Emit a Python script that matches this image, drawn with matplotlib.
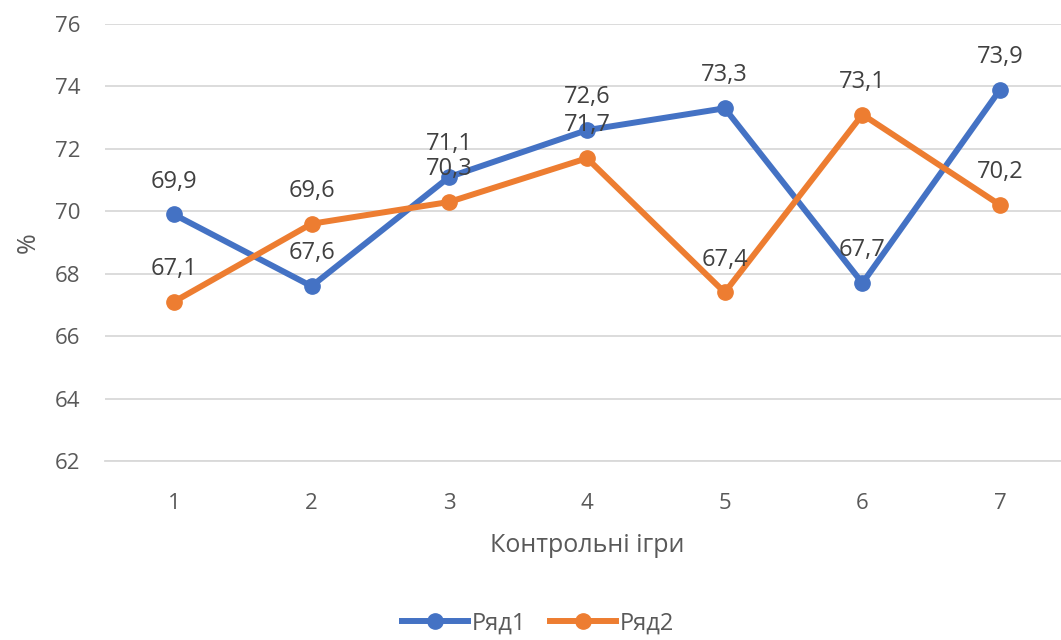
import matplotlib.pyplot as plt

games = [1, 2, 3, 4, 5, 6, 7]
row1 = [69.9, 67.6, 71.1, 72.6, 73.3, 67.7, 73.9]
row2 = [67.1, 69.6, 70.3, 71.7, 67.4, 73.1, 70.2]
yticks = [62, 64, 66, 68, 70, 72, 74, 76]

plt.rcParams['font.family'] = ['Open Sans', 'DejaVu Sans']
txt = '#595959'

fig = plt.figure(figsize=(10.61, 6.40), dpi=100)
ax = fig.add_axes([105 / 1061, (640 - 461) / 640, 964 / 1061, 437 / 640])

blue = '#4472C4'
orange = '#ED7D31'
ax.plot(games, row1, color=blue, lw=4.3, marker='o', ms=11, label='Ряд1', zorder=3)
ax.plot(games, row2, color=orange, lw=4.3, marker='o', ms=11, label='Ряд2', zorder=3)

# data labels sit on top of the lines
for series in (row1, row2):
    for x, y in zip(games, series):
        ax.annotate(f'{y:.1f}'.replace('.', ','), (x, y), xytext=(0, 15), textcoords='offset points',
                    ha='center', va='bottom', fontsize=17, color='#404040', zorder=5)

ax.set_xlim(0.5, 7.5)
ax.set_ylim(62, 76)
ax.set_yticks(yticks)
ax.set_xticks(games)
ax.grid(axis='y', color='#D9D9D9', lw=1.3)
ax.set_axisbelow(True)
for s in ['top', 'right', 'left']:
    ax.spines[s].set_visible(False)
ax.spines['bottom'].set_color('#D9D9D9')
ax.spines['bottom'].set_linewidth(1.3)
ax.tick_params(length=0, labelsize=16, labelcolor=txt)
ax.tick_params(axis='x', pad=23)
ax.tick_params(axis='y', pad=18)

ax.set_xlabel('Контрольні ігри', fontsize=18, color=txt, labelpad=14)
ax.set_ylabel('%', fontsize=18, color=txt, labelpad=10)

fig.legend(loc='center', bbox_to_anchor=(0.507, 0.026), ncol=2, frameon=False,
           fontsize=17, labelcolor=txt, handlelength=2.8, columnspacing=1.0, handletextpad=0.15)

fig.savefig('out.png', dpi=100)
